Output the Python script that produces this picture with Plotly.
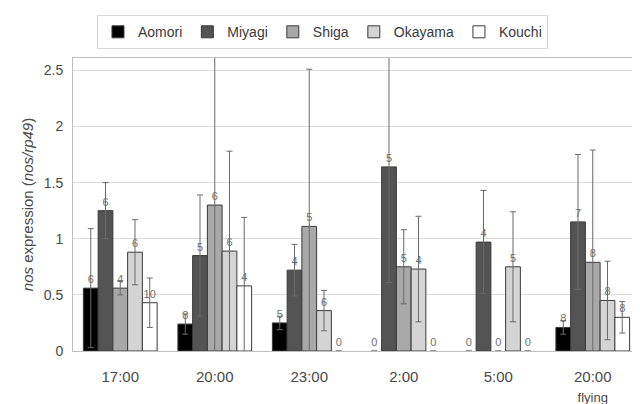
import plotly.graph_objects as go

categories = ["17:00", "20:00", "23:00", "2:00", "5:00", "20:00 flying"]
tick_labels = ["17:00", "20:00", "23:00", "2:00", "5:00",
               "20:00<br><span style='font-size:13px'>flying</span>"]
series_names = ["Aomori", "Miyagi", "Shiga", "Okayama", "Kouchi"]

aomori = [0.56, 0.24, 0.25, 0.0, 0.0, 0.21]
miyagi = [1.25, 0.85, 0.72, 1.64, 0.97, 1.15]
shiga = [0.56, 1.30, 1.11, 0.75, 0.0, 0.79]
okayama = [0.88, 0.89, 0.36, 0.73, 0.75, 0.45]
kouchi = [0.43, 0.58, 0.0, 0.0, 0.0, 0.30]

aomori_err = [0.53, 0.09, 0.06, 0.0, 0.0, 0.06]
miyagi_err = [0.25, 0.54, 0.23, 1.03, 0.46, 0.60]
shiga_err = [0.06, 1.40, 1.40, 0.33, 0.0, 1.00]
okayama_err = [0.29, 0.89, 0.18, 0.47, 0.49, 0.35]
kouchi_err = [0.22, 0.61, 0.0, 0.0, 0.0, 0.14]

aomori_n = [6, 8, 5, 0, 0, 8]
miyagi_n = [6, 5, 4, 5, 4, 7]
shiga_n = [4, 6, 5, 5, 0, 8]
okayama_n = [6, 6, 6, 4, 5, 8]
kouchi_n = [10, 4, 0, 0, 0, 8]

values = [aomori, miyagi, shiga, okayama, kouchi]
errors = [aomori_err, miyagi_err, shiga_err, okayama_err, kouchi_err]
counts = [aomori_n, miyagi_n, shiga_n, okayama_n, kouchi_n]
colors = ["#000000", "#545454", "#a8a8a8", "#d4d4d4", "#ffffff"]

FONT = "Liberation Sans"

fig = go.Figure()
for name, v, e, n, c in zip(series_names, values, errors, counts, colors):
    fig.add_trace(go.Bar(
        name=name, x=categories, y=v,
        marker=dict(color=c, line=dict(color="#3a3a3a",
                                       width=[1 if val > 0 else 0 for val in v])),
        error_y=dict(type="data", array=e, visible=True, color="#6a6a6a",
                     thickness=1, width=3),
        text=[str(k) for k in n], textposition="outside",
        textfont=dict(size=11, color="#707070", family=FONT),
        cliponaxis=False,
    ))

fig.update_layout(
    width=640, height=404,
    barmode="group", bargap=0.22, bargroupgap=0.0,
    plot_bgcolor="white", paper_bgcolor="white",
    margin=dict(l=65, r=7, t=49, b=53),
    font=dict(family=FONT, color="#4a4a4a", size=14),
    legend=dict(orientation="h", x=0.44, xanchor="center", y=1.146, yanchor="top",
                bordercolor="#d8d8d8", borderwidth=1,
                font=dict(size=14, color="#3a3a3a", family=FONT),
                itemwidth=30, traceorder="normal"),
    showlegend=True,
)
fig.update_xaxes(
    tickvals=categories, ticktext=tick_labels,
    showline=True, linecolor="#bfbfbf", mirror=True, linewidth=1,
    ticks="", tickfont=dict(size=15, color="#4a4a4a", family=FONT), ticklabelstandoff=12,
)
fig.update_yaxes(
    range=[0, 2.61], tickvals=[0, 0.5, 1, 1.5, 2, 2.5],
    ticktext=["0", "0.5", "1", "1.5", "2", "2.5"],
    showgrid=True, gridcolor="#dcdcdc", gridwidth=1,
    showline=True, linecolor="#bfbfbf", mirror=True, linewidth=1,
    zeroline=False, ticks="", tickfont=dict(size=14, color="#4a4a4a", family=FONT),
    ticklabelstandoff=6,
    title=dict(text="<i>nos</i> expression (<i>nos/rp49</i>)",
               font=dict(size=15, color="#4a4a4a", family=FONT), standoff=6),
)

fig.write_html("out.html")
